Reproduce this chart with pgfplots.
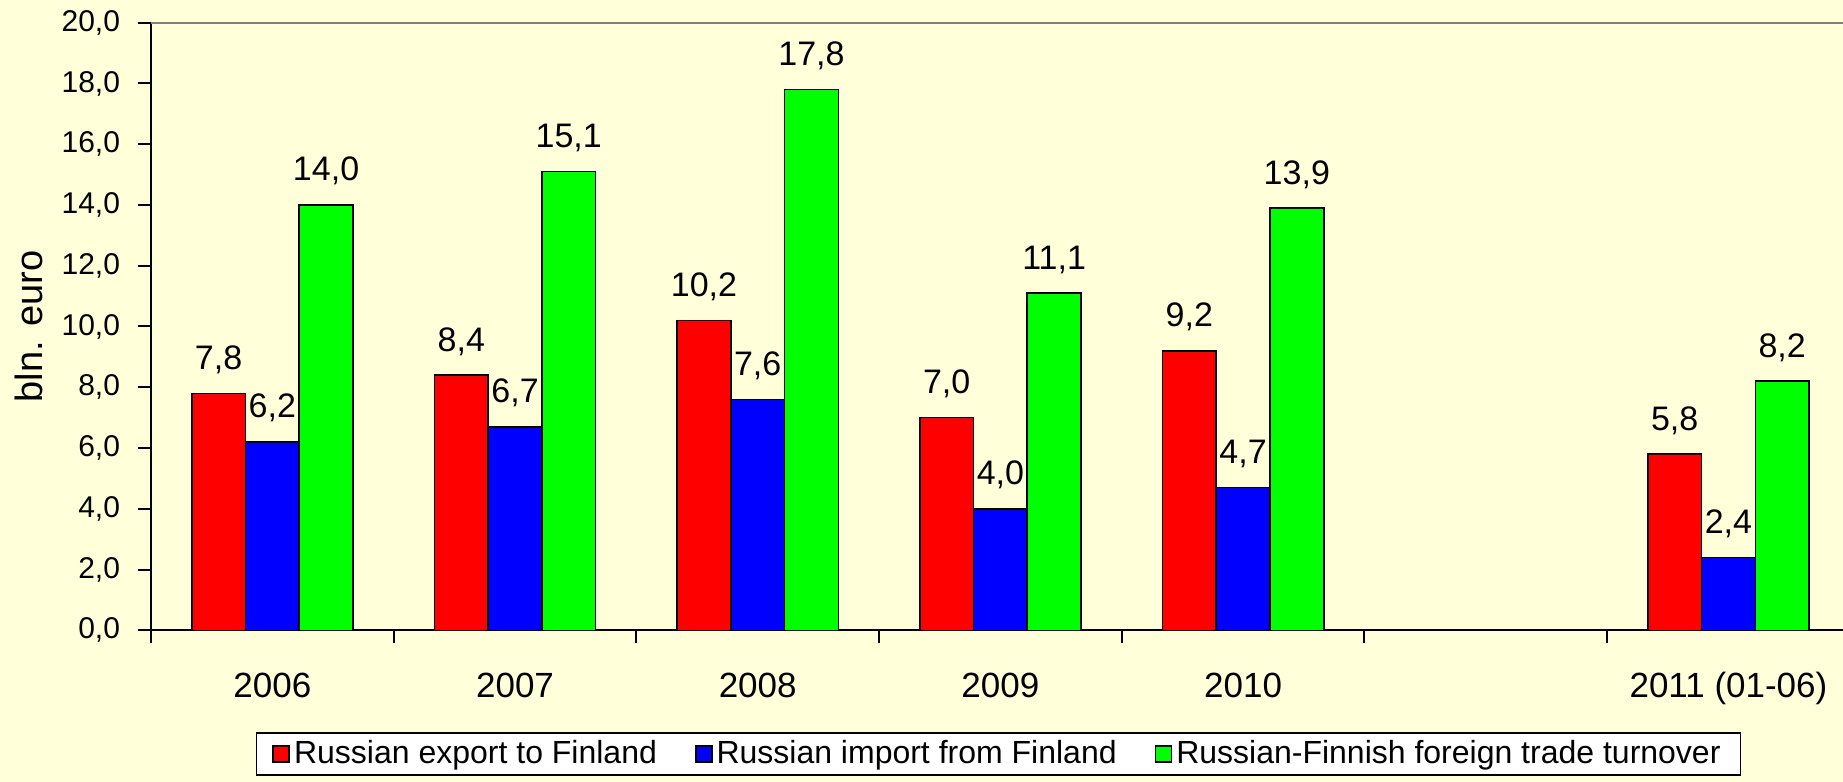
\documentclass[border=0pt]{standalone}
\usepackage{fontspec}
\setmainfont{Liberation Sans}
\usepackage{pgfplots}
\pgfplotsset{compat=1.18}
\usetikzlibrary{backgrounds}
\definecolor{bg}{RGB}{255,255,218}
\definecolor{topgray}{RGB}{128,128,128}

\begin{document}
\begin{tikzpicture}
\begin{axis}[
  at={(0,0)}, anchor=south west,
  scale only axis, width=846pt, height=303.8pt,
  xmin=0.5, xmax=7.472, ymin=0, ymax=20,
  ybar=0pt, bar width=26.87pt,
  axis lines*=left,
  axis line style={black, line width=1pt},
  ytick={0,2,...,20},
  tick align=outside,
  major tick length=6.5pt,
  tick style={black, line width=1pt},
  xtick={0.5,1.5,...,6.5},
  xticklabels={},
  extra x ticks={1,2,3,4,5,7},
  extra x tick labels={2006,2007,2008,2009,2010,2011 (01-06)},
  extra x tick style={major tick length=0pt,
    xticklabel style={font=\fontsize{17.5}{17.5}\selectfont, anchor=base, yshift=-33.5pt, inner sep=0pt}},
  yticklabel style={font=\fontsize{15}{15}\selectfont, anchor=east, inner sep=0pt, xshift=-8.8pt},
  ylabel={bln. euro},
  every axis y label/.style={at={(axis description cs:0,0.5)}, xshift=-61pt, rotate=90, anchor=center, font=\fontsize{19}{19}\selectfont},
  nodes near coords,
  every node near coord/.append style={font=\fontsize{17}{17}\selectfont, anchor=base, yshift=12pt, inner sep=0pt, black},
  /pgf/number format/fixed,
  /pgf/number format/fixed zerofill,
  /pgf/number format/precision=1,
  /pgf/number format/use comma,
  /pgf/number format/assume math mode=true,
  legend style={at={(0.5009,0)}, anchor=north, yshift=-50.85pt, legend columns=3,
    draw=black, line width=0.75pt, fill=white, font=\fontsize{16}{16}\selectfont,
    inner xsep=8pt,
    /tikz/every even column/.append style={column sep=17pt}},
  legend image code/.code={\draw[#1, line width=0.8pt] (0pt,-4pt) rectangle (8pt,4pt);},
]
\addplot[fill={rgb,255:red,255;green,0;blue,0}, draw=black, line width=0.8pt] coordinates {(1,7.8) (2,8.4) (3,10.2) (4,7.0) (5,9.2) (7,5.8)};
\addplot[fill={rgb,255:red,0;green,0;blue,255}, draw=black, line width=0.8pt] coordinates {(1,6.2) (2,6.7) (3,7.6) (4,4.0) (5,4.7) (7,2.4)};
\addplot[fill={rgb,255:red,0;green,255;blue,0}, draw=black, line width=0.8pt] coordinates {(1,14.0) (2,15.1) (3,17.8) (4,11.1) (5,13.9) (7,8.2)};
\legend{Russian export to Finland, Russian import from Finland, Russian-Finnish foreign trade turnover}
\draw[topgray, line width=1.2pt] (rel axis cs:0,1) -- (rel axis cs:1,1);
\end{axis}
\begin{scope}[on background layer]
\fill[bg] (-75.5pt,-75.85pt) rectangle (846pt,315.15pt);
\end{scope}
\pgfresetboundingbox
\useasboundingbox (-75.5pt,-75.85pt) rectangle (846pt,315.15pt);
\end{tikzpicture}
\end{document}
